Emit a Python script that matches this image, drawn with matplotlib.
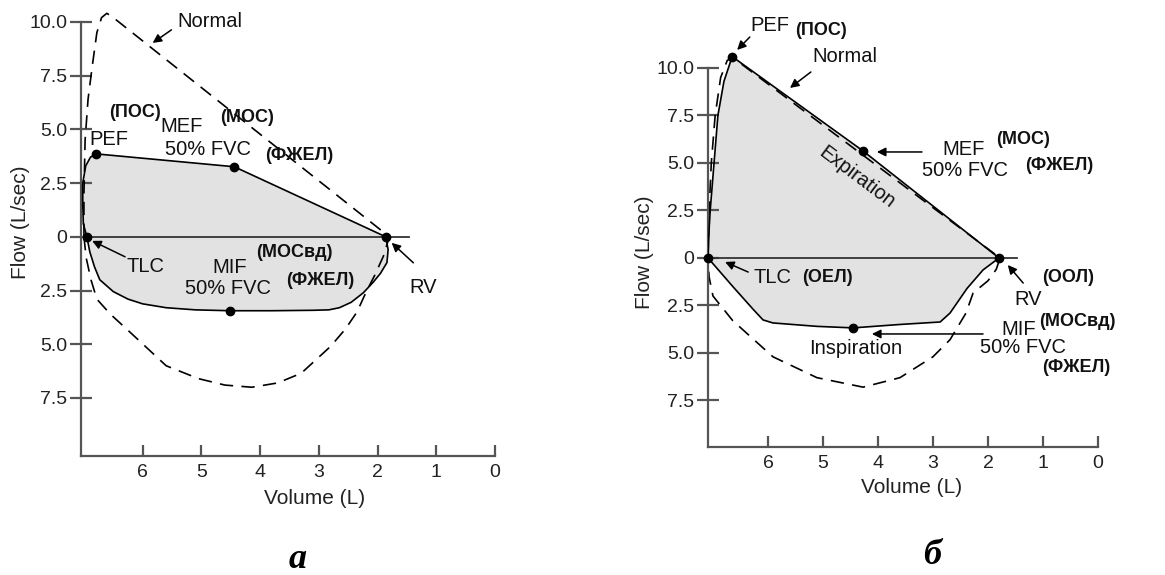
import numpy as np
import matplotlib
matplotlib.use('Agg')
import matplotlib.pyplot as plt
from matplotlib.ticker import FuncFormatter

plt.rcParams['font.family'] = ['Liberation Sans', 'DejaVu Sans']

# ---- data (volume L, flow L/sec; inspiration flow negative) ----
vol_ticks = [6, 5, 4, 3, 2, 1, 0]
flow_ticks = [10.0, 7.5, 5.0, 2.5, 0, -2.5, -5.0, -7.5]

# panel a: obstructive pattern
a_exp_vol = [6.95, 7.01, 7.02, 7.02, 6.97, 6.89, 6.80, 4.44, 1.86]
a_exp_flow = [0.0, 0.6, 1.5, 2.5, 3.3, 3.7, 3.86, 3.26, 0.0]
a_insp_vol = [6.95, 6.90, 6.82, 6.73, 6.50, 6.25, 6.00, 5.60, 5.10, 4.51, 3.80, 3.10,
              2.83, 2.65, 2.45, 2.24, 2.07, 1.95, 1.84, 1.82, 1.86]
a_insp_flow = [0.0, -0.7, -1.4, -2.0, -2.55, -2.9, -3.12, -3.3, -3.4, -3.44, -3.44, -3.42,
               -3.4, -3.3, -3.05, -2.6, -2.1, -1.7, -1.2, -0.6, 0.0]
a_norm_vol = [7.00, 7.00, 6.98, 6.93, 6.86, 6.78, 6.70, 6.61, 6.50, 1.80,
              1.90, 2.05, 2.20, 2.35, 2.55, 2.80, 3.30, 3.70, 4.14, 4.60, 5.05,
              5.60, 6.27, 6.55, 6.78, 6.88, 6.96, 7.00]
a_norm_flow = [0.0, 2.0, 4.5, 6.4, 7.9, 9.5, 10.2, 10.4, 10.2, 0.0,
               -0.9, -1.8, -2.6, -3.5, -4.3, -5.1, -6.35, -6.8, -7.0, -6.9, -6.6,
               -6.0, -4.3, -3.6, -2.9, -2.0, -1.0, 0.0]
a_dots_vol = [6.95, 6.80, 4.44, 1.86, 4.51]
a_dots_flow = [0.0, 3.86, 3.26, 0.0, -3.44]

# panel б: normal pattern
b_exp_vol = [7.09, 7.07, 7.05, 6.98, 6.91, 6.80, 6.65, 4.27, 1.80]
b_exp_flow = [0.0, 1.5, 2.5, 5.0, 7.5, 9.3, 10.6, 5.63, 0.0]
b_insp_vol = [7.09, 6.64, 6.27, 6.09, 5.91, 5.11, 4.45, 3.60, 2.87, 2.69, 2.38, 2.09, 1.80]
b_insp_flow = [0.0, -1.5, -2.7, -3.26, -3.42, -3.6, -3.68, -3.5, -3.37, -2.9, -1.6, -0.63, 0.0]
b_norm_vol = [7.09, 7.07, 7.03, 6.96, 6.86, 6.74, 6.64, 1.78,
              1.85, 2.00, 2.27, 2.40, 2.69, 3.00, 3.60, 4.27, 5.11, 5.91, 6.64,
              7.00, 7.07, 7.09]
b_norm_flow = [0.0, 2.5, 5.0, 7.5, 9.5, 10.4, 10.55, 0.0,
               -0.6, -1.2, -1.84, -2.9, -4.3, -5.2, -6.3, -6.8, -6.3, -5.2, -3.3,
               -2.0, -1.0, 0.0]
b_dots_vol = [7.09, 6.65, 4.27, 1.80, 4.45]
b_dots_flow = [0.0, 10.6, 5.63, 0.0, -3.68]

W, H = 1165, 575
fig = plt.figure(figsize=(W / 100, H / 100), dpi=100)

GRAY = '#555555'
FILL = '#e2e2e2'
REG = 14.5
BOLD = 13
dash = (0, (8, 5))


def setup(ax, xmax, ylo, yhi):
    ax.set_xlim(xmax, 0)
    ax.set_ylim(ylo, yhi)
    ax.patch.set_alpha(0)
    for s in ['top', 'right']:
        ax.spines[s].set_visible(False)
    ax.spines['left'].set_bounds(ylo, 10)
    for s in ['left', 'bottom']:
        ax.spines[s].set_color(GRAY)
        ax.spines[s].set_linewidth(1.6)
    ax.set_xticks(vol_ticks)
    ax.set_yticks(flow_ticks)
    ax.yaxis.set_major_formatter(FuncFormatter(
        lambda v, p: '0' if v == 0 else '%.1f' % abs(v)))
    ax.tick_params(axis='y', direction='inout', length=16, width=1.6,
                   color=GRAY, labelsize=14, labelcolor='#222222', pad=2)
    ax.tick_params(axis='x', direction='in', length=8, width=1.6,
                   color=GRAY, labelsize=14, labelcolor='#222222', pad=6)


def arrow(ax, tail, head):
    ax.annotate('', xy=head, xytext=tail,
                arrowprops=dict(arrowstyle='-|>', color='black', lw=1.1,
                                mutation_scale=13, shrinkA=0, shrinkB=0))


def loop(ax, ev, ef, iv, ifl, nv, nf, dv, df, zero_end):
    ax.fill(ev + iv[::-1], ef + ifl[::-1], color=FILL, lw=0, zorder=1)
    ax.plot(nv, nf, color='black', lw=1.2, ls=dash, zorder=2)
    ax.plot(ev, ef, color='black', lw=1.2, zorder=3)
    ax.plot(iv, ifl, color='black', lw=1.2, zorder=3)
    ax.plot([ev[0], zero_end], [0, 0], color='#333333', lw=1.3, zorder=3)
    ax.plot(dv, df, 'o', color='black', ms=6, zorder=4, clip_on=False)


# ---------------- panel а ----------------
ax1 = fig.add_axes([81 / W, 1 - 456 / H, 414 / W, 447 / H])
setup(ax1, 7.05, -10.2, 10.6)
loop(ax1, a_exp_vol, a_exp_flow, a_insp_vol, a_insp_flow,
     a_norm_vol, a_norm_flow, a_dots_vol, a_dots_flow, 1.47)
ax1.set_xlabel('Volume (L)', fontsize=15, color='#222222')
ax1.xaxis.set_label_coords(0.565, -0.094)
ax1.xaxis.label.set_va('center')
ax1.set_ylabel('Flow (L/sec)', fontsize=15, color='#222222')
ax1.yaxis.set_label_coords(-0.147, 0.523)
ax1.yaxis.label.set_va('center')

t = dict(ha='center', va='center', fontsize=REG, color='#111111')
b = dict(ha='center', va='center', fontsize=BOLD, fontweight='bold', color='#111111')
ax1.text(4.86, 10.0, 'Normal', **t)
arrow(ax1, (5.51, 9.63), (5.83, 9.02))
ax1.text(6.13, 5.77, '(ПОС)', **b)
ax1.text(6.58, 4.51, 'PEF', **t)
ax1.text(5.34, 5.15, 'MEF', **t)
ax1.text(4.22, 5.55, '(МОС)', **b)
ax1.text(4.88, 4.05, '50% FVC', **t)
ax1.text(3.34, 3.78, '(ФЖЕЛ)', **b)
ax1.text(5.95, -1.40, 'TLC', **t)
arrow(ax1, (6.30, -0.93), (6.86, -0.19))
ax1.text(3.41, -0.72, '(МОСвд)', **b)
ax1.text(4.51, -1.42, 'MIF', **t)
ax1.text(4.54, -2.40, '50% FVC', **t)
ax1.text(2.97, -2.05, '(ФЖЕЛ)', **b)
ax1.text(1.22, -2.37, 'RV', **t)
arrow(ax1, (1.39, -1.21), (1.76, -0.28))

# ---------------- panel б ----------------
ax2 = fig.add_axes([708 / W, 1 - 447 / H, 390 / W, 398 / H])
setup(ax2, 7.09, -9.95, 11.0)
loop(ax2, b_exp_vol, b_exp_flow, b_insp_vol, b_insp_flow,
     b_norm_vol, b_norm_flow, b_dots_vol, b_dots_flow, 1.48)
ax2.set_xlabel('Volume (L)', fontsize=15, color='#222222')
ax2.xaxis.set_label_coords(0.523, -0.103)
ax2.xaxis.label.set_va('center')
ax2.set_ylabel('Flow (L/sec)', fontsize=15, color='#222222')
ax2.yaxis.set_label_coords(-0.162, 0.49)
ax2.yaxis.label.set_va('center')

ax2.text(5.96, 12.26, 'PEF', **t)
ax2.text(5.04, 12.0, '(ПОС)', **b)
arrow(ax2, (6.33, 11.63), (6.56, 10.95))
ax2.text(4.60, 10.58, 'Normal', **t)
arrow(ax2, (5.22, 9.79), (5.60, 8.95))
ax2.text(4.38, 4.26, 'Expiration', rotation=-37, **t)
arrow(ax2, (3.20, 5.58), (4.02, 5.58))
ax2.text(2.44, 5.70, 'MEF', **t)
ax2.text(1.36, 6.25, '(МОС)', **b)
ax2.text(2.42, 4.62, '50% FVC', **t)
ax2.text(0.71, 4.85, '(ФЖЕЛ)', **b)
ax2.text(5.91, -1.05, 'TLC', **t)
ax2.text(4.91, -1.05, '(ОЕЛ)', **b)
arrow(ax2, (6.36, -0.74), (6.78, -0.21))
ax2.text(0.54, -1.05, '(ООЛ)', **b)
ax2.text(1.27, -2.21, 'RV', **t)
arrow(ax2, (1.36, -1.32), (1.64, -0.37))
ax2.text(1.44, -3.79, 'MIF', **t)
ax2.text(0.38, -3.37, '(МОСвд)', **b)
ax2.text(1.36, -4.72, '50% FVC', **t)
ax2.text(0.40, -5.78, '(ФЖЕЛ)', **b)
arrow(ax2, (2.09, -4.0), (4.11, -4.0))
ax2.text(4.40, -4.74, 'Inspiration', **t)

# panel letters
fig.text(298 / W, 1 - 560 / H, 'а', family='Liberation Serif', fontsize=26,
         fontweight='bold', style='italic', ha='center', va='center')
fig.text(932 / W, 1 - 556 / H, 'б', family='Liberation Serif', fontsize=26,
         fontweight='bold', style='italic', ha='center', va='center')

fig.savefig('out.png', dpi=100)
